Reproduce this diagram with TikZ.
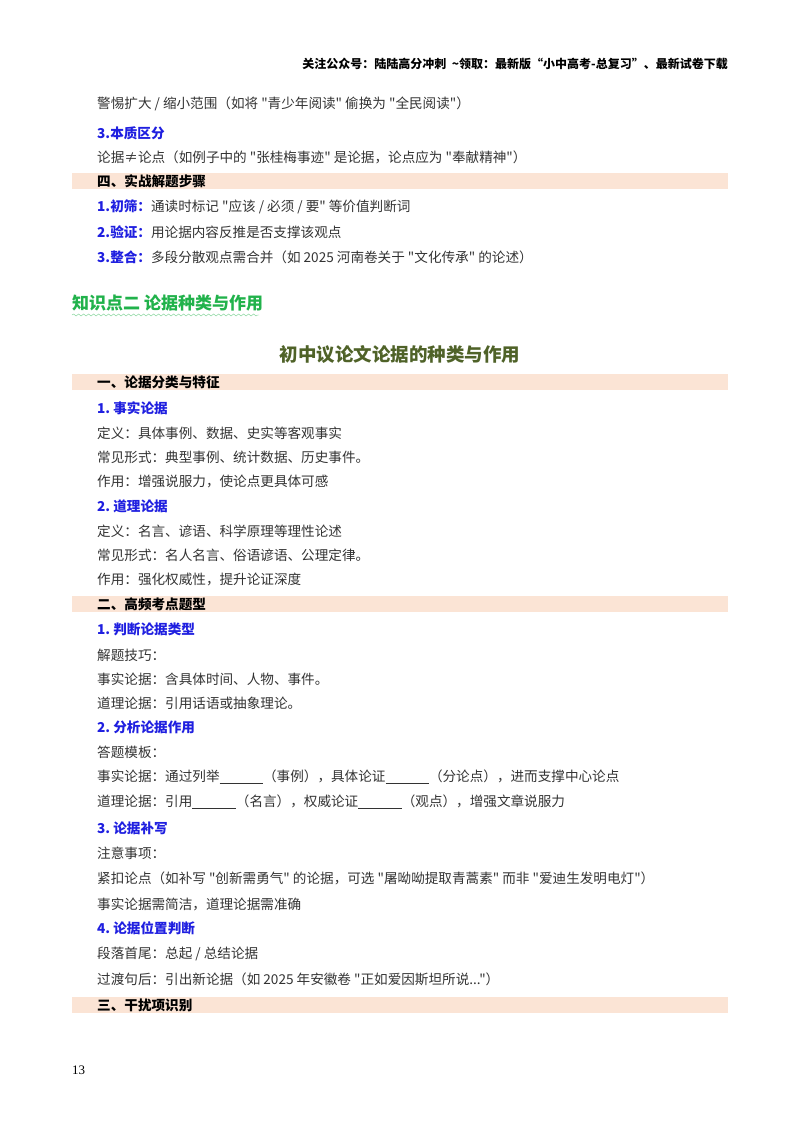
\documentclass[tikz,border=0pt]{standalone}
\usepackage{fontspec}
\setmainfont[Ligatures=TeXOff]{Noto Sans CJK SC}
\newfontfamily\serifnum{Liberation Serif}
\usetikzlibrary{decorations.pathmorphing}
\definecolor{bar}{HTML}{FBE4D5}
\definecolor{bluet}{HTML}{1F1FE0}
\definecolor{titleg}{HTML}{4F6228}
\definecolor{greenk}{HTML}{21B24B}
\definecolor{bodyc}{HTML}{333333}
\tikzset{
  txt/.style={anchor=west,inner sep=0pt,font=\fontsize{13.6}{13.6}\selectfont,text=bodyc},
  hd/.style={anchor=west,inner sep=0pt,font=\fontsize{13.6}{13.6}\selectfont\bfseries,text=bluet},
  bartxt/.style={anchor=west,inner sep=0pt,font=\fontsize{13.6}{13.6}\selectfont\bfseries,text=black},
}
\newcommand{\blk}{\underline{\hspace{3.2em}}}
\newcommand{\barline}[3]{\fill[bar] (72,-#1+8) rectangle (728,-#1-8); \node[bartxt] (#2) at (97,-#1) {#3};}
\begin{document}
\begin{tikzpicture}[x=1pt,y=1pt]
\useasboundingbox (0,0) rectangle (800,-1132);
\fill[white] (0,0) rectangle (800,-1132);
\node[anchor=east,inner sep=0pt,font=\fontsize{12}{12}\selectfont\bfseries] (hdr) at (728,-64) {关注公众号：陆陆高分冲刺\ \ \textasciitilde 领取：最新版“小中高考-总复习”、最新试卷下载};
\node[txt] (l1) at (97,-104) {警惕扩大 / 缩小范围（如将 "青少年阅读" 偷换为 "全民阅读"）};
\node[hd] (l2) at (97,-133) {3.本质区分};
\node[txt] (l3) at (97,-157) {论据≠论点（如例子中的 "张桂梅事迹" 是论据，论点应为 "奉献精神"）};
\barline{181}{b4}{四、实战解题步骤}
\node[txt] (l5) at (97,-207) {\textcolor{bluet}{\bfseries 1.初筛：}通读时标记 "应该 / 必须 / 要" 等价值判断词};
\node[txt] (l6) at (97,-232) {\textcolor{bluet}{\bfseries 2.验证：}用论据内容反推是否支撑该观点};
\node[txt] (l7) at (97,-257) {\textcolor{bluet}{\bfseries 3.整合：}多段分散观点需合并（如 2025 河南卷关于 "文化传承" 的论述）};
\node[anchor=west,inner sep=0pt,font=\fontsize{17}{17}\selectfont\bfseries,text=greenk] (k2) at (72,-303) {知识点二\ 论据种类与作用};
\draw[greenk!60,decorate,decoration={snake,amplitude=1pt,segment length=5pt}] (72,-315) -- (259,-315);
\node[inner sep=0pt,font=\fontsize{18.5}{18.5}\selectfont\bfseries,text=titleg] (ttl) at (400,-354) {初中议论文论据的种类与作用};
\barline{382}{b1}{一、论据分类与特征}
\node[hd] (a1) at (97,-408) {1.\ 事实论据};
\node[txt] (a2) at (97,-433) {定义：具体事例、数据、史实等客观事实};
\node[txt] (a3) at (97,-457) {常见形式：典型事例、统计数据、历史事件。};
\node[txt] (a4) at (97,-481) {作用：增强说服力，使论点更具体可感};
\node[hd] (a5) at (97,-506) {2.\ 道理论据};
\node[txt] (a6) at (97,-531) {定义：名言、谚语、科学原理等理性论述};
\node[txt] (a7) at (97,-555) {常见形式：名人名言、俗语谚语、公理定律。};
\node[txt] (a8) at (97,-579) {作用：强化权威性，提升论证深度};
\barline{604}{b2}{二、高频考点题型}
\node[hd] (c1) at (97,-629) {1.\ 判断论据类型};
\node[txt] (c2) at (97,-655) {解题技巧：};
\node[txt] (c3) at (97,-679) {事实论据：含具体时间、人物、事件。};
\node[txt] (c4) at (97,-703) {道理论据：引用话语或抽象理论。};
\node[hd] (c5) at (97,-727) {2.\ 分析论据作用};
\node[txt] (c6) at (97,-752) {答题模板：};
\node[txt] (c7) at (97,-777) {事实论据：通过列举\blk（事例），具体论证\blk（分论点），进而支撑中心论点};
\node[txt] (c8) at (97,-802) {道理论据：引用\blk（名言），权威论证\blk（观点），增强文章说服力};
\node[hd] (c9) at (97,-828) {3.\ 论据补写};
\node[txt] (c10) at (97,-853) {注意事项：};
\node[txt] (c11) at (97,-878) {紧扣论点（如补写 "创新需勇气" 的论据，可选 "屠呦呦提取青蒿素" 而非 "爱迪生发明电灯"）};
\node[txt] (c12) at (97,-904) {事实论据需简洁，道理论据需准确};
\node[hd] (c13) at (97,-928) {4.\ 论据位置判断};
\node[txt] (c14) at (97,-954) {段落首尾：总起 / 总结论据};
\node[txt] (c15) at (97,-979) {过渡句后：引出新论据（如 2025 年安徽卷 "正如爱因斯坦所说..."）};
\barline{1005}{b3}{三、干扰项识别}
\node[anchor=west,inner sep=0pt,font=\serifnum\fontsize{13}{13}\selectfont] (pg) at (72,-1070) {13};
\end{tikzpicture}
\end{document}
